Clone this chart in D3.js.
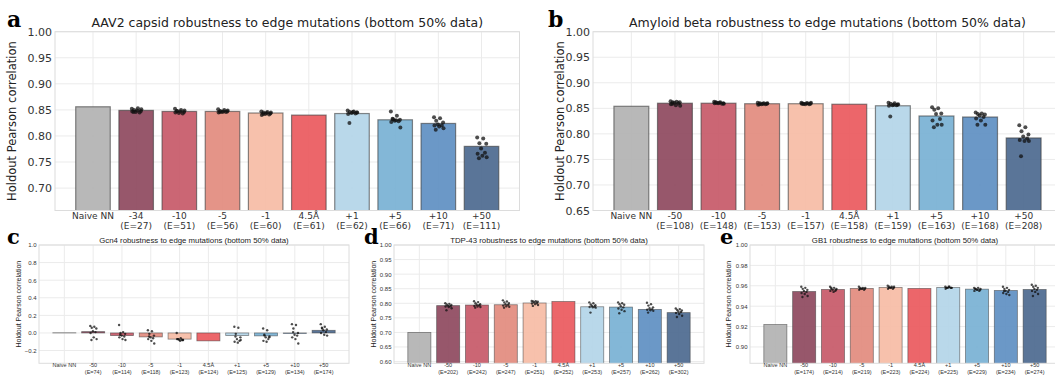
<!DOCTYPE html>
<html>
<head>
<meta charset="utf-8">
<script src="https://cdn.jsdelivr.net/npm/d3@7"></script>
<style>
  body { margin: 0; background: #fff; }
  svg { display: block; }
</style>
</head>
<body>
<svg id="chart" width="1055" height="375"></svg>
<script>
// ---- data ----
const barColors = ["#b3b3b3", "#8f4a60", "#c75a69", "#e28c7f", "#f6bca6", "#eb5a5f", "#b4d5e8", "#7ab2d4", "#6090c3", "#4d6b90"];

const aavCats = ["Naive NN", "-34", "-10", "-5", "-1", "4.5Å", "+1", "+5", "+10", "+50"];
const aavEdges = [null, 27, 51, 56, 60, 61, 62, 66, 71, 111];
const aavMeans = [0.856, 0.849, 0.847, 0.847, 0.844, 0.840, 0.843, 0.831, 0.824, 0.780];
const aavRuns = [
  [],
  [0.852, 0.853, 0.850, 0.848, 0.846, 0.845, 0.847, 0.849, 0.851, 0.846],
  [0.852, 0.850, 0.848, 0.846, 0.844, 0.843, 0.845, 0.847, 0.849, 0.848],
  [0.851, 0.850, 0.848, 0.847, 0.846, 0.846, 0.845, 0.847, 0.849, 0.846],
  [0.847, 0.846, 0.845, 0.843, 0.842, 0.841, 0.840, 0.844, 0.845, 0.842],
  [],
  [0.849, 0.847, 0.846, 0.845, 0.844, 0.843, 0.842, 0.846, 0.845, 0.825],
  [0.847, 0.839, 0.832, 0.831, 0.829, 0.828, 0.827, 0.830, 0.816, 0.833],
  [0.836, 0.834, 0.829, 0.826, 0.822, 0.820, 0.820, 0.818, 0.815, 0.812],
  [0.797, 0.795, 0.786, 0.785, 0.776, 0.768, 0.766, 0.762, 0.759, 0.757]
];

const abCats = ["Naive NN", "-50", "-10", "-5", "-1", "4.5Å", "+1", "+5", "+10", "+50"];
const abEdges = [null, 108, 148, 153, 157, 158, 159, 163, 168, 208];
const abMeans = [0.854, 0.860, 0.860, 0.859, 0.859, 0.858, 0.855, 0.835, 0.833, 0.792];
const abRuns = [
  [],
  [0.864, 0.863, 0.862, 0.862, 0.861, 0.860, 0.858, 0.856, 0.855, 0.859],
  [0.863, 0.862, 0.861, 0.860, 0.860, 0.859, 0.860, 0.861, 0.859, 0.862],
  [0.861, 0.860, 0.860, 0.859, 0.858, 0.858, 0.857, 0.859, 0.860, 0.858],
  [0.861, 0.860, 0.859, 0.859, 0.858, 0.858, 0.859, 0.860, 0.861, 0.859],
  [],
  [0.861, 0.860, 0.859, 0.857, 0.856, 0.856, 0.855, 0.857, 0.858, 0.834],
  [0.852, 0.850, 0.847, 0.840, 0.839, 0.829, 0.826, 0.818, 0.818, 0.813],
  [0.842, 0.840, 0.839, 0.838, 0.836, 0.833, 0.830, 0.826, 0.818, 0.818],
  [0.817, 0.813, 0.805, 0.799, 0.795, 0.791, 0.788, 0.786, 0.786, 0.756]
];

const gcnCats = ["Naive NN", "-50", "-10", "-5", "-1", "4.5Å", "+1", "+5", "+10", "+50"];
const gcnEdges = [null, 74, 114, 118, 123, 124, 125, 129, 134, 174];
const gcnMeans = [0.002, 0.015, -0.03, -0.045, -0.07, -0.09, -0.03, -0.033, -0.006, 0.03];
const gcnRuns = [
  [],
  [0.08, 0.07, 0.06, 0.05, 0.02, 0.01, 0.0, -0.05, -0.07, -0.08],
  [0.09, 0.01, 0.0, -0.01, -0.03, -0.04, -0.05, -0.07, -0.08, -0.02],
  [0.03, 0.02, -0.01, -0.03, -0.05, -0.06, -0.07, -0.09, -0.12, -0.04],
  [0.0, -0.06, -0.07, -0.08, -0.08, -0.08, -0.07, -0.09, -0.08, -0.07],
  [],
  [0.07, 0.06, -0.01, -0.05, -0.07, -0.09, -0.10, -0.11, -0.08, -0.04],
  [0.05, 0.03, -0.03, -0.05, -0.05, -0.07, -0.09, -0.10, -0.04, -0.02],
  [0.10, 0.09, 0.05, 0.0, -0.02, -0.03, -0.05, -0.07, -0.12, 0.01],
  [0.10, 0.07, 0.05, 0.04, 0.03, 0.01, 0.0, -0.02, -0.03, 0.06]
];

const tdpCats = ["Naive NN", "-50", "-10", "-5", "-1", "4.5Å", "+1", "+5", "+10", "+50"];
const tdpEdges = [null, 202, 242, 247, 251, 252, 253, 257, 262, 302];
const tdpMeans = [0.700, 0.792, 0.794, 0.795, 0.801, 0.806, 0.788, 0.787, 0.779, 0.768];
const tdpRuns = [
  [],
  [0.800, 0.798, 0.796, 0.794, 0.792, 0.790, 0.789, 0.787, 0.783, 0.776],
  [0.807, 0.804, 0.800, 0.797, 0.795, 0.793, 0.791, 0.789, 0.787, 0.785],
  [0.810, 0.806, 0.803, 0.800, 0.797, 0.795, 0.792, 0.790, 0.788, 0.785],
  [0.808, 0.807, 0.806, 0.805, 0.803, 0.801, 0.799, 0.797, 0.794, 0.791],
  [],
  [0.803, 0.800, 0.796, 0.793, 0.791, 0.789, 0.787, 0.786, 0.785, 0.768],
  [0.803, 0.800, 0.797, 0.795, 0.790, 0.786, 0.782, 0.778, 0.773, 0.766],
  [0.802, 0.797, 0.792, 0.786, 0.783, 0.780, 0.778, 0.776, 0.774, 0.768],
  [0.782, 0.780, 0.777, 0.775, 0.772, 0.770, 0.767, 0.763, 0.757, 0.753]
];

const gb1Cats = ["Naive NN", "-50", "-10", "-5", "-1", "4.5Å", "+1", "+5", "+10", "+50"];
const gb1Edges = [null, 174, 214, 219, 223, 224, 225, 229, 234, 274];
const gb1Means = [0.922, 0.9544, 0.9564, 0.9574, 0.9584, 0.9574, 0.9584, 0.9567, 0.9554, 0.9564];
const gb1Runs = [
  [],
  [0.959, 0.958, 0.957, 0.956, 0.955, 0.954, 0.953, 0.952, 0.950, 0.949],
  [0.959, 0.958, 0.957, 0.956, 0.956, 0.955, 0.955, 0.954, 0.957, 0.958],
  [0.959, 0.958, 0.958, 0.957, 0.957, 0.956, 0.956, 0.957, 0.958, 0.957],
  [0.960, 0.959, 0.959, 0.958, 0.958, 0.957, 0.957, 0.958, 0.959, 0.958],
  [],
  [0.959, 0.959, 0.958, 0.958, 0.958, 0.958, 0.957, 0.959, 0.958, 0.958],
  [0.958, 0.958, 0.957, 0.956, 0.956, 0.955, 0.955, 0.956, 0.957, 0.957],
  [0.959, 0.958, 0.957, 0.956, 0.955, 0.954, 0.953, 0.952, 0.951, 0.955],
  [0.961, 0.960, 0.959, 0.958, 0.957, 0.956, 0.955, 0.954, 0.952, 0.950]
];

// fixed horizontal offsets for the strip points (fraction of the bar step)
const jitter = [-0.10, 0.04, -0.05, 0.11, -0.01, 0.08, -0.09, 0.02, 0.12, -0.06];

const svg = d3.select("#chart");

function drawPanel(p) {
  const g = svg.append("g");
  const x = d3.scaleBand()
    .domain(d3.range(p.cats.length))
    .range([p.left, p.right])
    .paddingInner(0.2)
    .paddingOuter(0.48);
  const y = d3.scaleLinear().domain(p.yDomain).range([p.bottom, p.top]);
  const step = x.step();

  const clipId = "clip-" + p.letter;
  svg.append("clipPath").attr("id", clipId)
    .append("rect")
    .attr("x", p.left).attr("y", p.top)
    .attr("width", p.right - p.left).attr("height", p.bottom - p.top);

  // grid
  g.selectAll(".hg").data(p.yTicks).enter().append("line")
    .attr("x1", p.left).attr("x2", p.right)
    .attr("y1", d => y(d)).attr("y2", d => y(d))
    .attr("stroke", "#ebebeb").attr("stroke-width", 1);
  g.selectAll(".vg").data(d3.range(p.cats.length)).enter().append("line")
    .attr("x1", d => x(d) + x.bandwidth() / 2).attr("x2", d => x(d) + x.bandwidth() / 2)
    .attr("y1", p.top).attr("y2", p.bottom)
    .attr("stroke", "#ebebeb").attr("stroke-width", 1);

  // bars
  const plot = g.append("g").attr("clip-path", `url(#${clipId})`);
  plot.selectAll("rect").data(p.means).enter().append("rect")
    .attr("x", (d, i) => x(i))
    .attr("width", x.bandwidth())
    .attr("y", d => Math.min(y(d), y(0)))
    .attr("height", d => Math.abs(y(0) - y(d)))
    .attr("fill", (d, i) => barColors[i])
    .attr("fill-opacity", 0.93)
    .attr("stroke", "#3a3a3a")
    .attr("stroke-opacity", 0.6)
    .attr("stroke-width", p.small ? 0.8 : 1.2);

  // strip points
  p.runs.forEach((vals, i) => {
    plot.selectAll(null).data(vals).enter().append("circle")
      .attr("cx", (d, j) => x(i) + x.bandwidth() / 2 + jitter[j % jitter.length] * step)
      .attr("cy", d => y(d))
      .attr("r", p.small ? 1.2 : 2)
      .attr("fill", "#111")
      .attr("fill-opacity", 0.75);
  });

  // frame
  g.append("rect")
    .attr("x", p.left).attr("y", p.top)
    .attr("width", p.right - p.left).attr("height", p.bottom - p.top)
    .attr("fill", "none").attr("stroke", "#dcdcdc").attr("stroke-width", 1);

  // y axis
  const yAxis = d3.axisLeft(y).tickValues(p.yTicks).tickSize(0).tickPadding(p.small ? 2.5 : 3)
    .tickFormat(d3.format(p.yFormat));
  const ya = g.append("g").attr("transform", `translate(${p.left},0)`).call(yAxis);
  ya.select(".domain").remove();
  ya.selectAll("text")
    .attr("font-family", p.font).attr("font-size", p.tickSize).attr("fill", "#333");

  // x labels (two lines)
  const xl = g.selectAll(".xl").data(p.cats).enter().append("text")
    .attr("text-anchor", "middle")
    .attr("font-family", p.font).attr("font-size", p.xTickSize).attr("fill", "#333");
  xl.append("tspan")
    .attr("x", (d, i) => x(i) + x.bandwidth() / 2)
    .attr("y", p.xLab1)
    .text(d => d);
  xl.append("tspan")
    .attr("x", (d, i) => x(i) + x.bandwidth() / 2)
    .attr("y", p.xLab2)
    .text((d, i) => p.edges[i] == null ? "" : `(E=${p.edges[i]})`);

  // y label
  g.append("text")
    .attr("transform", `translate(${p.yLabelX},${(p.top + p.bottom) / 2}) rotate(-90)`)
    .attr("text-anchor", "middle")
    .attr("font-family", p.font).attr("font-size", p.yLabelSize).attr("fill", "#222")
    .text("Holdout Pearson correlation");

  // title
  g.append("text")
    .attr("x", (p.left + p.right) / 2).attr("y", p.titleY)
    .attr("text-anchor", "middle")
    .attr("font-family", p.font).attr("font-size", p.titleSize).attr("fill", "#222")
    .text(p.title);

  // panel letter
  g.append("text")
    .attr("x", p.letterX).attr("y", p.letterY)
    .attr("font-family", "'DejaVu Serif', 'Liberation Serif', serif")
    .attr("font-weight", "bold")
    .attr("font-size", p.letterSize).attr("fill", "#000")
    .text(p.letter);
}

const topStyle = {
  font: "'DejaVu Sans', sans-serif", tickSize: 11, xTickSize: 9, yLabelSize: 11.5,
  titleSize: 12.5, letterSize: 22, top: 31.7, bottom: 210.5, xLab1: 219, xLab2: 229,
  titleY: 27, letterY: 27, small: false
};
const botStyle = {
  font: "'Liberation Sans', Arial, sans-serif", tickSize: 6, xTickSize: 5.5, yLabelSize: 7,
  titleSize: 7.8, letterSize: 21, top: 245, bottom: 363.3, xLab1: 367, xLab2: 374,
  titleY: 242.5, letterY: 244, small: true
};

drawPanel(Object.assign({}, topStyle, {
  letter: "a", letterX: 7, left: 55, right: 519.5, yLabelX: 16,
  yDomain: [0.657, 1.0], yTicks: d3.range(0.70, 1.0001, 0.05), yFormat: ".2f",
  cats: aavCats, edges: aavEdges, means: aavMeans, runs: aavRuns,
  title: "AAV2 capsid robustness to edge mutations (bottom 50% data)"
}));
drawPanel(Object.assign({}, topStyle, {
  letter: "b", letterX: 548, left: 593, right: 1062, yLabelX: 564,
  yDomain: [0.65, 1.0], yTicks: d3.range(0.65, 1.0001, 0.05), yFormat: ".2f",
  cats: abCats, edges: abEdges, means: abMeans, runs: abRuns,
  title: "Amyloid beta robustness to edge mutations (bottom 50% data)"
}));
drawPanel(Object.assign({}, botStyle, {
  letter: "c", letterX: 7, left: 39, right: 349, yLabelX: 21,
  yDomain: [-0.345, 1.0], yTicks: [-0.2, 0, 0.2, 0.4, 0.6, 0.8, 1.0], yFormat: ".1f",
  cats: gcnCats, edges: gcnEdges, means: gcnMeans, runs: gcnRuns,
  title: "Gcn4 robustness to edge mutations (bottom 50% data)"
}));
drawPanel(Object.assign({}, botStyle, {
  letter: "d", letterX: 364, left: 394, right: 704, yLabelX: 376,
  yDomain: [0.594, 1.0], yTicks: d3.range(0.60, 1.0001, 0.05), yFormat: ".2f",
  cats: tdpCats, edges: tdpEdges, means: tdpMeans, runs: tdpRuns,
  title: "TDP-43 robustness to edge mutations (bottom 50% data)"
}));
drawPanel(Object.assign({}, botStyle, {
  letter: "e", letterX: 720, left: 750, right: 1060, yLabelX: 731,
  yDomain: [0.884, 1.0], yTicks: d3.range(0.90, 1.0001, 0.02), yFormat: ".2f",
  cats: gb1Cats, edges: gb1Edges, means: gb1Means, runs: gb1Runs,
  title: "GB1 robustness to edge mutations (bottom 50% data)"
}));
</script>
</body>
</html>
